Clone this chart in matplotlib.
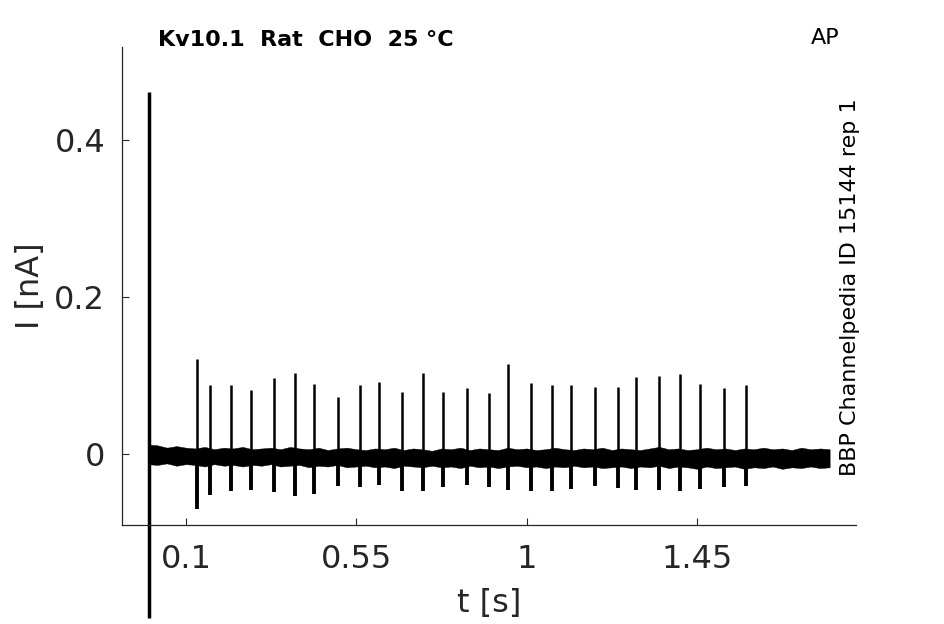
import matplotlib
matplotlib.use('Agg')
import matplotlib.pyplot as plt

# stimulus artifact at t = 0 (extends below the axis)
artifact_t = 0.002
artifact_range = (-0.209, 0.461)

# action-potential spikes: time [s], peak [nA], dip [nA]
spike_t = [0.130, 0.163, 0.220, 0.272, 0.332, 0.388, 0.438, 0.502, 0.560,
           0.611, 0.671, 0.727, 0.779, 0.842, 0.900, 0.951, 1.011, 1.068,
           1.118, 1.181, 1.240, 1.289, 1.350, 1.405, 1.457, 1.521, 1.578]
spike_peak = [0.121, 0.0875, 0.0875, 0.081, 0.097, 0.103, 0.089, 0.073, 0.0875,
              0.092, 0.0786, 0.103, 0.079, 0.0845, 0.077, 0.114, 0.0905, 0.0875,
              0.0875, 0.0857, 0.085, 0.0985, 0.0998, 0.1015, 0.089, 0.0845, 0.0875]
spike_dip = [-0.0705, -0.052, -0.047, -0.046, -0.049, -0.053, -0.0505, -0.041, -0.042,
             -0.040, -0.047, -0.047, -0.0416, -0.040, -0.042, -0.046, -0.047, -0.047,
             -0.044, -0.041, -0.0437, -0.046, -0.046, -0.047, -0.044, -0.042, -0.041]

# noise envelope of the baseline, every 0.025 s from 0 to 1.8 s
band_t = [i * 0.025 for i in range(73)]
band_hi = [0.012, 0.011, 0.008, 0.010, 0.008, 0.007, 0.009, 0.006, 0.008, 0.007,
           0.009, 0.006, 0.007, 0.008, 0.006, 0.009, 0.007, 0.006, 0.008, 0.005,
           0.007, 0.008, 0.006, 0.005, 0.007, 0.006, 0.008, 0.005, 0.007, 0.006,
           0.004, 0.007, 0.006, 0.008, 0.005, 0.007, 0.006, 0.005, 0.008, 0.006,
           0.007, 0.005, 0.006, 0.008, 0.006, 0.005, 0.007, 0.006, 0.008, 0.005,
           0.007, 0.006, 0.005, 0.007, 0.009, 0.006, 0.007, 0.005, 0.006, 0.008,
           0.006, 0.007, 0.005, 0.007, 0.006, 0.008, 0.006, 0.007, 0.005, 0.008,
           0.006, 0.007, 0.006]
band_lo = [-0.013, -0.014, -0.012, -0.015, -0.013, -0.014, -0.016, -0.013, -0.015, -0.014,
           -0.016, -0.014, -0.015, -0.013, -0.016, -0.015, -0.014, -0.017, -0.015, -0.016,
           -0.014, -0.017, -0.016, -0.015, -0.017, -0.016, -0.018, -0.015, -0.016, -0.017,
           -0.015, -0.017, -0.016, -0.018, -0.015, -0.017, -0.016, -0.018, -0.016, -0.015,
           -0.017, -0.016, -0.018, -0.016, -0.017, -0.015, -0.017, -0.016, -0.018, -0.017,
           -0.016, -0.018, -0.016, -0.017, -0.015, -0.018, -0.016, -0.017, -0.019, -0.016,
           -0.018, -0.017, -0.016, -0.019, -0.017, -0.018, -0.016, -0.019, -0.017, -0.018,
           -0.016, -0.018, -0.017]

xticks = [0.1, 0.55, 1, 1.45]
xticklabels = ['0.1', '0.55', '1', '1.45']
yticks = [0, 0.2, 0.4]
yticklabels = ['0', '0.2', '0.4']

fig = plt.figure(figsize=(9.45, 6.24), dpi=100)
ax = fig.add_axes([0.129, 0.1587, 0.777, 0.766])

gray = '#262626'
ax.fill_between(band_t, band_lo, band_hi, color='black', lw=0.3)
ax.vlines(spike_t, 0, spike_peak, color='black', lw=1.8)
ax.vlines(spike_t, spike_dip, 0, color='black', lw=2.8)
ax.vlines(artifact_t, artifact_range[0], artifact_range[1], color='black', lw=2.5,
          clip_on=False)

ax.set_xlim(-0.069, 1.87)
ax.set_ylim(-0.0904, 0.518)
ax.set_xticks(xticks)
ax.set_xticklabels(xticklabels)
ax.set_yticks(yticks)
ax.set_yticklabels(yticklabels)
ax.tick_params(direction='in', length=5, width=0.8, colors=gray, labelsize=23, pad=12)
ax.tick_params(axis='x', pad=14)

for side in ['top', 'right']:
    ax.spines[side].set_visible(False)
for side in ['left', 'bottom']:
    ax.spines[side].set_color(gray)
    ax.spines[side].set_linewidth(0.9)

ax.set_xlabel('t [s]', fontsize=23, color=gray, labelpad=9)
ax.set_ylabel('I [nA]', fontsize=23, color=gray, labelpad=6)

fig.text(158 / 945, 1 - 40 / 624, 'Kv10.1  Rat  CHO  25 °C', fontsize=16,
         weight='bold', ha='left', va='center')
fig.text(825 / 945, 1 - 38 / 624, 'AP', fontsize=16, ha='center', va='center')
fig.text(850 / 945, 1 - 287 / 624, 'BBP Channelpedia ID 15144 rep 1', fontsize=16,
         rotation=90, ha='center', va='center')

fig.savefig('out.png', dpi=100, facecolor='white')
